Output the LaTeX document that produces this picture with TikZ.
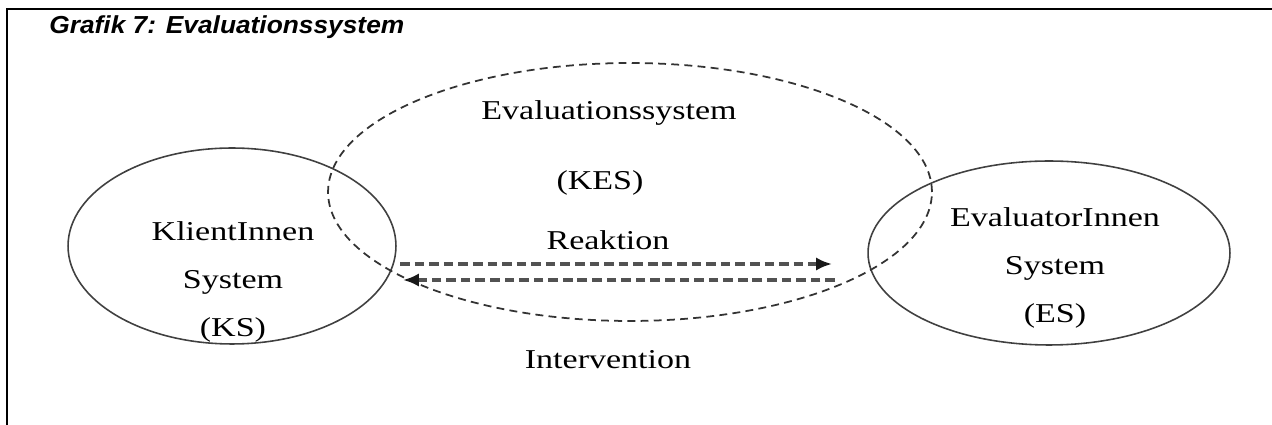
\documentclass[tikz,border=0pt]{standalone}
\usepackage{fontspec}
\setmainfont{Liberation Serif}
\newfontfamily\titlefont{Liberation Sans}
\usepackage{graphicx}
\usetikzlibrary{shapes.geometric,arrows.meta}
\newcommand{\wide}[1]{\scalebox{1.25}[1]{#1}}

\begin{document}
\begin{tikzpicture}[x=0.02cm, y=-0.02cm,
	sysring/.style={ellipse, draw=black!75, line width=0.9pt, inner sep=0pt},
	evalring/.style={ellipse, draw=black!80, dash pattern=on 4.5pt off 3pt, line width=1pt, inner sep=0pt},
	flow/.style={draw=black!68, line width=1.9pt, dash pattern=on 5.5pt off 2.8pt, -{Latex[length=9pt,width=7.5pt,color=black!90]}},
	lbl/.style={font=\fontsize{15.5}{27.5}\selectfont, align=center, inner sep=0pt}]
			\useasboundingbox (0,0) rectangle (1272,425);
			\draw[line width=1.6pt] (1272,9) -- (7,9) -- (7,425);
			\node[anchor=base west, inner sep=0pt, font=\titlefont\bfseries\itshape\fontsize{14}{16}\selectfont] (title) at (49,34) {\scalebox{1.07}[1]{Grafik 7: Evaluationssystem}};
			\node[sysring, minimum width=6.56cm, minimum height=3.92cm] (ks) at (232,246) {};
			\node[sysring, minimum width=7.24cm, minimum height=3.68cm] (es) at (1049,253) {};
			\node[evalring, minimum width=12.08cm, minimum height=5.16cm] (kes) at (630,192) {};
			\node[lbl] (kstext) at (233,282) {\wide{KlientInnen}\\\wide{System}\\\wide{(KS)}};
			\node[lbl] (estext) at (1055,268) {\wide{EvaluatorInnen}\\\wide{System}\\\wide{(ES)}};
			\node[lbl] (kesname) at (609,113) {\wide{Evaluationssystem}};
			\node[lbl] (kesabbr) at (600,183) {\wide{(KES)}};
			\node[lbl] (reaktion) at (608,240) {\wide{Reaktion}};
			\node[lbl] (intervention) at (608,360) {\wide{Intervention}};
			\coordinate (reakA) at (400,264);
			\coordinate (reakB) at (832,264);
			\coordinate (intA) at (835,280);
			\coordinate (intB) at (403,280);
			\draw[flow] (reakA) -- (reakB);
			\draw[flow] (intA) -- (intB);
		\end{tikzpicture}
\end{document}
